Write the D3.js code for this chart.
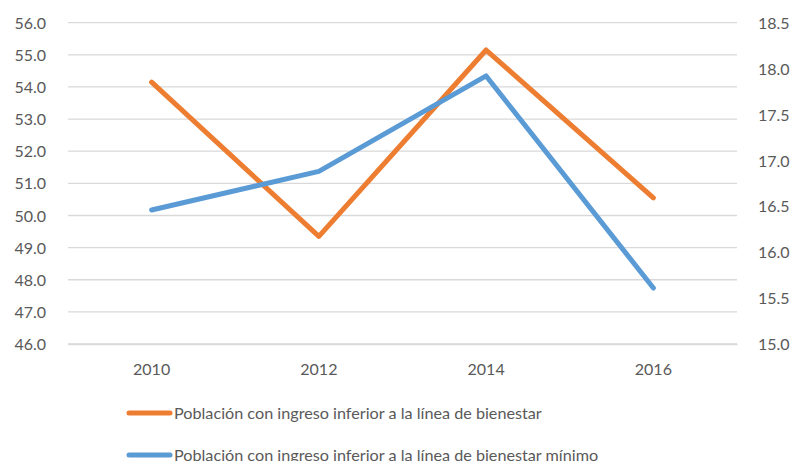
<!DOCTYPE html>
<html>
<head>
<meta charset="utf-8">
<script src="https://cdn.jsdelivr.net/npm/d3@7"></script>
<style>
  body { margin: 0; background: #fff; }
  text { font-family: Lato, "Open Sans", sans-serif; fill: #595959; }
</style>
</head>
<body>
<div id="chart"></div>
<script>
const years = ["2010", "2012", "2014", "2016"];
const bienestar = [54.15, 49.35, 55.15, 50.55];      // left axis
const bienestarMinimo = [16.46, 16.88, 17.92, 15.61]; // right axis
const leftTicks = [46, 47, 48, 49, 50, 51, 52, 53, 54, 55, 56];
const rightTicks = [15, 15.5, 16, 16.5, 17, 17.5, 18, 18.5];
const seriesNames = [
  "Población con ingreso inferior a la línea de bienestar",
  "Población con ingreso inferior a la línea de bienestar mínimo"
];

const width = 798, height = 461;
const plotLeft = 68, plotRight = 737, plotTop = 22.7, plotBottom = 344;

const svg = d3.select("#chart").append("svg")
  .attr("width", width)
  .attr("height", height);

const x = d3.scaleBand()
  .domain(years)
  .range([plotLeft, plotRight]);

const yL = d3.scaleLinear().domain([46, 56]).range([plotBottom, plotTop]);
const yR = d3.scaleLinear().domain([15, 18.5]).range([plotBottom, plotTop]);

// gridlines
svg.append("g")
  .selectAll("line")
  .data(leftTicks)
  .enter()
  .append("line")
  .attr("x1", plotLeft)
  .attr("x2", plotRight)
  .attr("y1", d => yL(d))
  .attr("y2", d => yL(d))
  .attr("stroke", "#d9d9d9")
  .attr("stroke-width", 1.3);

// left axis
const axL = svg.append("g")
  .attr("transform", `translate(${plotLeft - 19}, 0)`)
  .call(d3.axisLeft(yL).tickValues(leftTicks).tickFormat(d3.format(".1f")).tickSize(0));
axL.select(".domain").remove();
axL.selectAll("text").style("font-size", "16px").attr("dy", "0.35em");

// right axis
const axR = svg.append("g")
  .attr("transform", `translate(${plotRight + 18}, 0)`)
  .call(d3.axisRight(yR).tickValues(rightTicks).tickFormat(d3.format(".1f")).tickSize(0));
axR.select(".domain").remove();
axR.selectAll("text").style("font-size", "16px").attr("dy", "0.35em");

// bottom axis
const axB = svg.append("g")
  .attr("transform", `translate(0, ${plotBottom})`)
  .call(d3.axisBottom(x).tickSize(0).tickPadding(20));
axB.select(".domain").attr("stroke", "#d9d9d9").attr("stroke-width", 1.3);
axB.selectAll("text").style("font-size", "16px");

const cx = d => x(d) + x.bandwidth() / 2;

const lineL = d3.line().x((d, i) => cx(years[i])).y(d => yL(d));
const lineR = d3.line().x((d, i) => cx(years[i])).y(d => yR(d));

svg.append("path")
  .datum(bienestar)
  .attr("d", lineL)
  .attr("fill", "none")
  .attr("stroke", "#ed7d31")
  .attr("stroke-width", 5)
  .attr("stroke-linejoin", "round")
  .attr("stroke-linecap", "round");

svg.append("path")
  .datum(bienestarMinimo)
  .attr("d", lineR)
  .attr("fill", "none")
  .attr("stroke", "#5b9bd5")
  .attr("stroke-width", 5)
  .attr("stroke-linejoin", "round")
  .attr("stroke-linecap", "round");

// legend
const colors = ["#ed7d31", "#5b9bd5"];
const legend = svg.append("g").attr("transform", "translate(129, 413)");
const items = legend.selectAll("g")
  .data(seriesNames)
  .enter()
  .append("g")
  .attr("transform", (d, i) => `translate(0, ${i * 42})`);

items.append("line")
  .attr("x1", 0)
  .attr("x2", 41)
  .attr("stroke", (d, i) => colors[i])
  .attr("stroke-width", 5)
  .attr("stroke-linecap", "round");

items.append("text")
  .attr("x", 45)
  .attr("dy", "0.35em")
  .style("font-size", "16.2px")
  .text(d => d);
</script>
</body>
</html>
